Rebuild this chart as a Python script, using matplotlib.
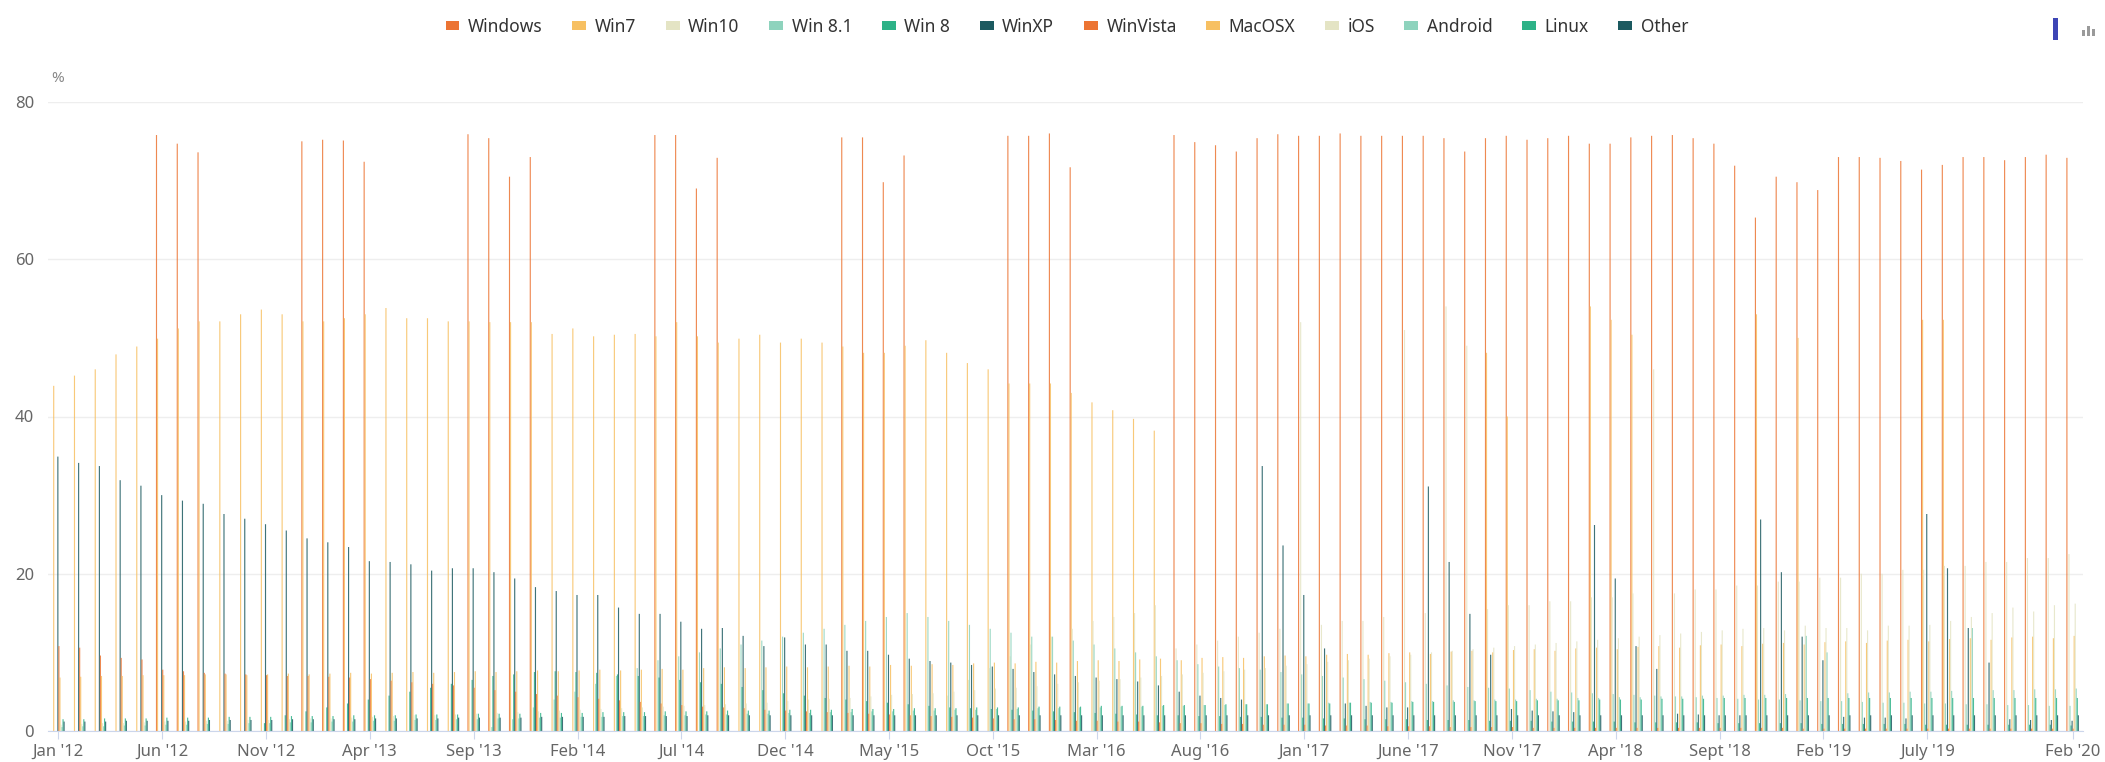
import numpy as np
import matplotlib.pyplot as plt
from matplotlib.patches import Patch, Rectangle

plt.rcParams['font.family'] = ['Noto Sans', 'DejaVu Sans']

nan = np.nan

# monthly values, Jan 2012 .. Feb 2020 (98 months)
windows = [nan, nan, nan, nan, nan, 75.8, 74.7, 73.6, nan, nan, nan, nan,
           75.0, 75.2, 75.1, 72.4, nan, nan, nan, nan, 75.9, 75.4, 70.5, 73.0,
           nan, nan, nan, nan, nan, 75.8, 75.8, 69.0, 72.9, nan, nan, nan,
           nan, nan, 75.5, 75.5, 69.8, 73.2, nan, nan, nan, nan, 75.7, 75.7,
           76.0, 71.7, nan, nan, nan, nan, 75.8, 74.9, 74.5, 73.7, 75.4, 75.9,
           75.7, 75.7, 76.0, 75.7, 75.7, 75.7, 75.7, 75.4, 73.7, 75.4, 75.7, 75.2,
           75.4, 75.7, 74.7, 74.7, 75.5, 75.7, 75.8, 75.4, 74.7, 71.9, 65.3, 70.5,
           69.8, 68.8, 73.0, 73.0, 72.9, 72.5, 71.4, 72.0, 73.0, 73.0, 72.6, 73.0,
           73.3, 72.9]
win7 = [43.9, 45.2, 46.0, 47.9, 48.9, 49.9, 51.2, 52.1, 52.1, 53.0, 53.6, 53.0,
        52.1, 52.1, 52.5, 53.0, 53.8, 52.5, 52.5, 52.1, 52.1, 52.0, 52.0, 52.0,
        50.5, 51.2, 50.2, 50.4, 50.5, 50.2, 52.0, 50.2, 49.4, 49.9, 50.4, 49.4,
        49.9, 49.4, 48.9, 48.1, 48.1, 49.0, 49.7, 48.1, 46.8, 46.0, 44.2, 44.2,
        44.2, 43.0, 41.8, 40.8, 39.7, 38.2, nan, nan, nan, nan, nan, nan,
        nan, nan, nan, nan, nan, nan, nan, nan, nan, 48.1, 40.0, nan,
        nan, nan, 54.0, 52.3, 50.4, nan, nan, nan, nan, nan, 53.0, nan,
        50.0, nan, nan, nan, nan, nan, 52.3, 52.3, nan, nan, nan, nan,
        nan, nan]
win10 = [nan] * 43 + [4.5, 6.5, 8.0, 9.5, 11.0,
         12.0, 13.0, 14.0, 14.5, 15.0, 16.0, 10.5, 11.0, 11.5, 12.0, 12.5, 13.0,
         52.0, 13.5, 14.0, 14.0, 14.5, 51.0, 15.0, 54.0, 49.0, 15.5, 16.0, 16.0,
         16.5, 16.5, 17.0, 17.0, 17.5, 46.0, 17.5, 18.0, 18.0, 18.5, 18.5, 19.0,
         19.0, 19.5, 19.5, 20.0, 20.0, 20.5, 20.5, 21.0, 21.0, 21.5, 21.5, 22.0,
         22.0, 22.5]
win81 = [nan] * 21 + [0.5, 1.5, 3.0,
         4.0, 5.0, 6.0, 7.0, 8.0, 9.0, 9.5, 10.0, 10.5, 11.0, 11.5, 12.0,
         12.5, 13.0, 13.5, 14.0, 14.5, 15.0, 14.5, 14.0, 13.5, 13.0, 12.5, 12.0,
         12.0, 11.5, 11.0, 10.5, 10.0, 9.5, 9.0, 8.5, 8.2, 8.0, 7.8, 7.5,
         7.2, 7.0, 6.8, 6.6, 6.4, 6.2, 6.0, 5.8, 5.6, 5.5, 5.4, 5.2,
         5.0, 4.9, 4.8, 4.7, 4.6, 4.5, 4.4, 4.3, 4.2, 4.1, 4.0, 4.0,
         3.9, 3.8, 3.8, 3.7, 3.6, 3.6, 3.5, 3.5, 3.4, 3.4, 3.3, 3.3,
         3.2, 3.2]
win8 = [nan] * 10 + [1.0, 2.0,
        2.5, 3.0, 3.5, 4.0, 4.5, 5.0, 5.5, 6.0, 6.5, 7.0, 7.2, 7.5,
        7.6, 7.5, 7.4, 7.2, 7.0, 6.8, 6.5, 6.2, 6.0, 5.6, 5.2, 4.8,
        4.5, 4.2, 4.0, 3.8, 3.6, 3.4, 3.2, 3.0, 2.9, 2.8, 2.7, 2.6,
        2.5, 2.4, 2.3, 2.2, 2.1, 2.0, 2.0, 1.9, 1.9, 1.8, 1.8, 1.7,
        1.7, 1.6, 1.6, 1.5, 1.5, 1.5, 1.4, 1.4, 1.4, 1.3, 1.3, 1.3,
        1.2, 1.2, 1.2, 1.2, 1.1, 1.1, 1.1, 1.1, 1.0, 1.0, 1.0, 1.0,
        1.0, 0.9, 0.9, 0.9, 0.9, 0.9, 0.8, 0.8, 0.8, 0.8, 0.8, 0.8,
        0.8, 0.7]
winxp = [34.9, 34.1, 33.7, 31.9, 31.2, 30.0, 29.3, 28.9, 27.6, 27.0, 26.3, 25.5,
         24.5, 24.0, 23.4, 21.6, 21.5, 21.2, 20.4, 20.7, 20.7, 20.2, 19.4, 18.3,
         17.8, 17.3, 17.3, 15.7, 14.9, 14.9, 13.9, 13.0, 13.1, 12.1, 10.8, 11.9,
         11.0, 11.0, 10.2, 10.2, 9.7, 9.2, 8.9, 8.7, 8.4, 8.2, 7.9, 7.5,
         7.2, 7.0, 6.8, 6.6, 6.3, 5.8, 5.0, 4.5, 4.2, 4.0, 33.7, 23.6,
         17.3, 10.5, 3.5, 3.2, 3.0, 3.0, 31.1, 21.5, 14.9, 9.7, 2.8, 2.6,
         2.5, 2.4, 26.2, 19.4, 10.8, 7.9, 2.2, 2.1, 2.0, 2.0, 26.9, 20.2,
         12.0, 9.0, 1.8, 1.7, 1.7, 1.6, 27.6, 20.7, 13.1, 8.7, 1.5, 1.4,
         1.4, 1.3]
vista = [10.8, 10.6, 9.6, 9.3, 9.1, 7.8, 7.6, 7.4, 7.3, 7.2, 7.1, 7.0,
         7.0, 6.9, 6.8, 6.6, 6.4, 6.2, 6.0, 5.8, 5.5, 5.2, 5.0, 4.7,
         4.5, 4.3, 4.1, 3.9, 3.7, 3.5, 3.3, 3.1, 3.0, 2.9, 2.7, 2.6,
         2.5, 2.4, 2.3, 2.2, 2.1, 2.0, 1.9, 1.8, 1.7, 1.6, 1.5, 1.5,
         1.4, 1.3, 1.3, 1.2, 1.2, 1.1, 1.0, 1.0, 0.9, 0.9, 0.8, 0.8,
         0.8, 0.7, 0.7, 0.7, 0.6, 0.6, 0.6, 0.5, 0.5, 0.5, 0.5, 0.4,
         0.4, 0.4, 0.4, 0.4, 0.4, 0.4, 0.4, 0.4, 0.4, 0.4, 0.4, 0.4,
         0.3, 0.3, 0.3, 0.3, 0.3, 0.3, 0.3, 0.3, 0.3, 0.3, 0.3, 0.3,
         0.3, 0.3]
macosx = [6.8, 6.9, 7.0, 7.0, 7.1, 7.1, 7.1, 7.2, 7.2, 7.1, 7.2, 7.3,
          7.2, 7.3, 7.4, 7.3, 7.4, 7.5, 7.4, 7.5, 7.6, 7.5, 7.6, 7.7,
          7.6, 7.7, 7.8, 7.7, 7.8, 7.9, 7.8, 8.0, 8.1, 8.0, 8.1, 8.2,
          8.1, 8.2, 8.3, 8.2, 8.4, 8.3, 8.5, 8.4, 8.6, 8.7, 8.6, 8.8,
          8.7, 8.9, 9.0, 8.9, 9.1, 9.2, 9.0, 9.3, 9.4, 9.3, 9.5, 9.6,
          9.5, 9.7, 9.8, 9.7, 9.9, 10.0, 9.8, 10.1, 10.2, 10.0, 10.3, 10.4,
          10.2, 10.5, 10.6, 10.4, 10.7, 10.8, 10.6, 10.9, 11.0, 10.8, 11.1, 11.2,
          11.0, 11.3, 11.4, 11.2, 11.5, 11.6, 11.4, 11.7, 11.8, 11.6, 11.9, 12.0,
          11.8, 12.1]
ios = [0.8, 0.9, 1.0, 1.0, 1.1, 1.2, 1.2, 1.3, 1.3, 1.4, 1.4, 1.5,
       1.6, 1.6, 1.7, 1.8, 1.9, 2.0, 2.0, 2.1, 2.2, 2.3, 2.4, 2.5,
       2.6, 2.7, 2.8, 2.9, 3.0, 3.1, 3.2, 3.3, 3.4, 3.5, 3.6, 3.8,
       4.0, 4.1, 4.2, 4.4, 4.6, 4.7, 4.8, 5.0, 5.2, 5.4, 5.5, 5.7,
       6.0, 6.2, 6.4, 6.6, 6.8, 7.0, 7.2, 7.4, 7.6, 7.8, 8.0, 8.3,
       8.5, 8.8, 9.0, 9.2, 9.5, 9.7, 10.0, 10.2, 10.4, 10.6, 10.8, 11.0,
       11.2, 11.4, 11.6, 11.8, 12.0, 12.2, 12.4, 12.6, 12.8, 13.0, 13.1, 12.8,
       13.4, 13.1, 13.1, 12.8, 13.4, 13.4, 13.5, 14.0, 14.5, 15.0, 15.7, 15.2,
       16.0, 16.2]
android = [0.5, 0.6, 0.6, 0.7, 0.7, 0.8, 0.8, 0.9, 0.9, 1.0, 1.0, 1.1,
           1.1, 1.2, 1.2, 1.3, 1.3, 1.4, 1.4, 1.5, 1.5, 1.6, 1.6, 1.7,
           1.7, 1.8, 1.8, 1.9, 1.9, 2.0, 2.0, 2.1, 2.1, 2.2, 2.2, 2.3,
           2.3, 2.4, 2.4, 2.5, 2.5, 2.6, 2.6, 2.7, 2.7, 2.8, 2.8, 2.9,
           2.9, 3.0, 3.0, 3.1, 3.1, 3.2, 3.2, 3.3, 3.3, 3.4, 3.4, 3.5,
           3.5, 3.6, 3.6, 3.7, 3.7, 3.8, 3.8, 3.9, 3.9, 4.0, 4.0, 4.1,
           4.1, 4.2, 4.2, 4.3, 4.3, 4.4, 4.4, 4.5, 4.5, 4.6, 4.6, 4.7,
           12.1, 10.0, 4.8, 4.9, 4.9, 5.0, 5.0, 5.1, 13.1, 5.2, 5.2, 5.3,
           5.3, 5.4]
linux = [1.5, 1.5, 1.6, 1.6, 1.6, 1.7, 1.7, 1.7, 1.8, 1.8, 1.8, 1.9,
         1.9, 1.9, 2.0, 2.0, 2.0, 2.1, 2.1, 2.1, 2.2, 2.2, 2.2, 2.3,
         2.3, 2.3, 2.4, 2.4, 2.4, 2.5, 2.5, 2.5, 2.6, 2.6, 2.6, 2.7,
         2.7, 2.7, 2.8, 2.8, 2.8, 2.9, 2.9, 2.9, 3.0, 3.0, 3.0, 3.1,
         3.1, 3.1, 3.2, 3.2, 3.2, 3.3, 3.3, 3.3, 3.4, 3.4, 3.4, 3.5,
         3.5, 3.5, 3.6, 3.6, 3.6, 3.7, 3.7, 3.7, 3.8, 3.8, 3.8, 3.9,
         3.9, 3.9, 4.0, 4.0, 4.0, 4.1, 4.1, 4.1, 4.2, 4.2, 4.2, 4.2,
         4.2, 4.2, 4.2, 4.2, 4.2, 4.2, 4.2, 4.2, 4.2, 4.2, 4.2, 4.2,
         4.2, 4.2]
other = [1.2, 1.2, 1.2, 1.3, 1.3, 1.3, 1.3, 1.4, 1.4, 1.4, 1.4, 1.5,
         1.5, 1.5, 1.5, 1.6, 1.6, 1.6, 1.6, 1.7, 1.7, 1.7, 1.7, 1.8,
         1.8, 1.8, 1.8, 1.9, 1.9, 1.9, 1.9, 2.0, 2.0, 2.0, 2.0, 2.0,
         2.0, 2.0, 2.0, 2.0, 2.0, 2.0, 2.0, 2.0, 2.0, 2.0, 2.0, 2.0,
         2.0, 2.0, 2.0, 2.0, 2.0, 2.0, 2.0, 2.0, 2.0, 2.0, 2.0, 2.0,
         2.0, 2.0, 2.0, 2.0, 2.0, 2.0, 2.0, 2.0, 2.0, 2.0, 2.0, 2.0,
         2.0, 2.0, 2.0, 2.0, 2.0, 2.0, 2.0, 2.0, 2.0, 2.0, 2.0, 2.0,
         2.0, 2.0, 2.0, 2.0, 2.0, 2.0, 2.0, 2.0, 2.0, 2.0, 2.0, 2.0,
         2.0, 2.0]

series_names = ["Windows", "Win7", "Win10", "Win 8.1", "Win 8", "WinXP",
                "WinVista", "MacOSX", "iOS", "Android", "Linux", "Other"]
series_values = [windows, win7, win10, win81, win8, winxp,
                 vista, macosx, ios, android, linux, other]
palette = ["#ec7433", "#f7c062", "#e4e4c4", "#8ed3bd", "#2db287", "#1c5a60"]
colors = palette + palette

tick_pos = [0, 5, 10, 15, 20, 25, 30, 35, 40, 45, 50, 55, 60, 65, 70, 75, 80, 85, 90, 97]
tick_labels = ["Jan '12", "Jun '12", "Nov '12", "Apr '13", "Sep '13", "Feb '14",
               "Jul '14", "Dec '14", "May '15", "Oct '15", "Mar '16", "Aug '16",
               "Jan '17", "June '17", "Nov '17", "Apr '18", "Sept '18", "Feb '19",
               "July '19", "Feb '20"]

W, H = 2105, 762
fig = plt.figure(figsize=(W / 100, H / 100), dpi=100)
ax = fig.add_axes([48 / W, (H - 731) / H, (2083 - 48) / W, (731 - 102) / H])

n = len(windows)
x = np.arange(n)
nser = len(series_values)
slot = 0.6 / nser
for k, (name, vals) in enumerate(zip(series_names, series_values)):
    bars = ax.bar(x - 0.3 + slot * (k + 0.5), np.array(vals, dtype=float), width=slot * 1.1,
                  color=colors[k], linewidth=0, label=name, alpha=0.85)
    for b in bars:
        b.set_snap(False)

ax.set_xlim(-0.5, n - 0.5)
ax.set_ylim(0, 80)
ax.set_yticks([0, 20, 40, 60, 80])
ax.yaxis.grid(True, color="#eeeeee", linewidth=1)
ax.set_axisbelow(True)
ax.tick_params(axis="y", length=0, labelsize=12, labelcolor="#666666", pad=10)
ax.set_xticks(tick_pos)
ax.set_xticklabels(tick_labels)
ax.tick_params(axis="x", length=6, color="#ccd6eb", labelsize=12, labelcolor="#666666", pad=3)
for s in ["top", "right", "left"]:
    ax.spines[s].set_visible(False)
ax.spines["bottom"].set_color("#ccd6eb")

fig.text(58 / W, 1 - 78 / H, "%", fontsize=11, color="#888888", ha="center", va="center")

handles = [Patch(facecolor=c, edgecolor="none") for c in colors]
fig.legend(handles, series_names, loc="center", bbox_to_anchor=(1067 / W, 1 - 27 / H),
           ncol=12, frameon=False, fontsize=12.5, handlelength=0.8, handleheight=0.45,
           handletextpad=0.5, columnspacing=1.7, labelcolor="#333333")

# small toolbar icons top right
fig.patches.append(Rectangle((2053 / W, 1 - 40 / H), 5 / W, 22 / H, transform=fig.transFigure,
                             facecolor="#3d45b5", edgecolor="none"))
for dx, h in [(0, 6), (5, 10), (10, 7)]:
    fig.patches.append(Rectangle(((2082 + dx) / W, 1 - 36 / H), 3 / W, h / H,
                                 transform=fig.transFigure, facecolor="#9a9a9a", edgecolor="none"))

fig.savefig("out.png", dpi=100)
